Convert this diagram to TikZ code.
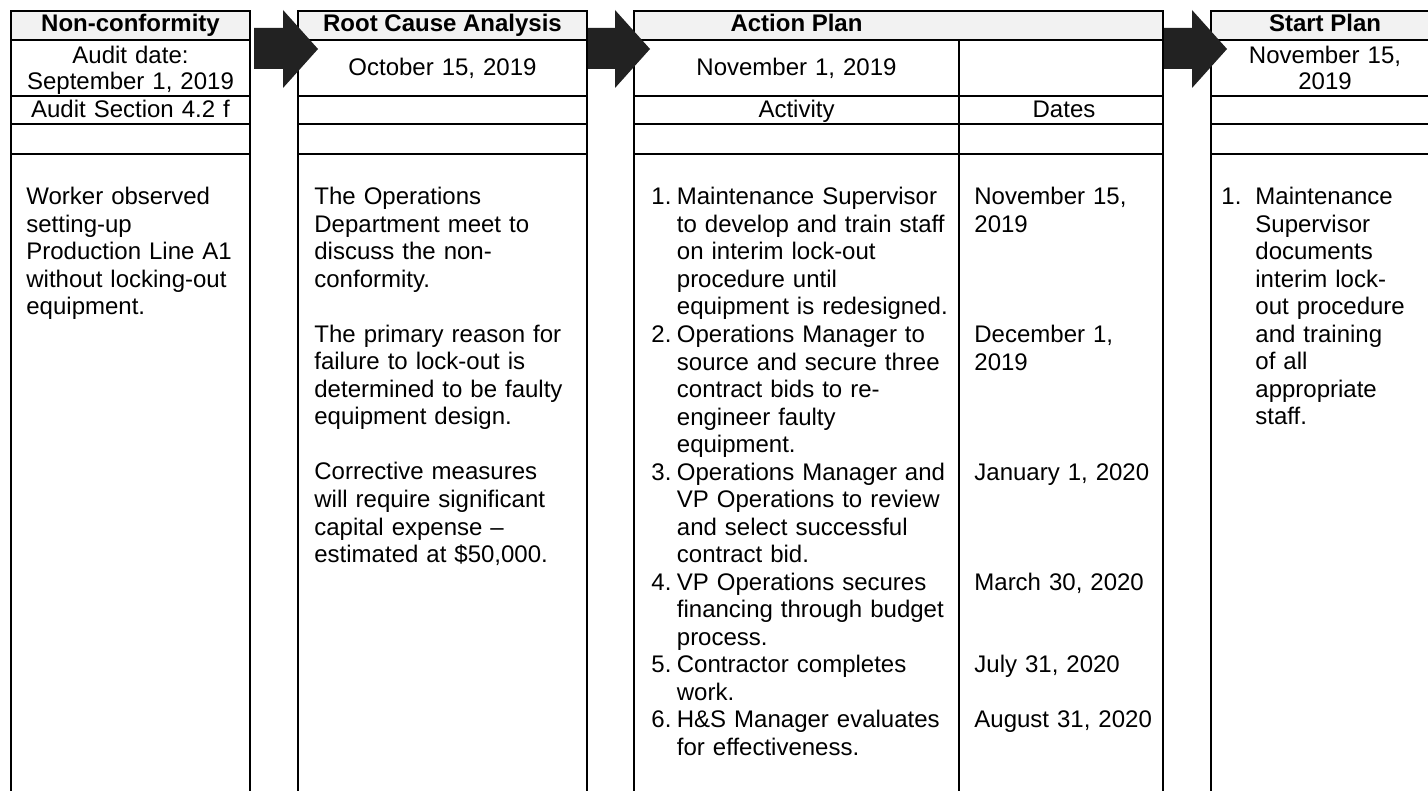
\documentclass[tikz,border=0pt]{standalone}
\usepackage{fontspec}
\setmainfont{Liberation Sans}
\definecolor{arrowdark}{HTML}{222222}
\definecolor{hdrgray}{HTML}{F2F2F2}
\begin{document}
\begin{tikzpicture}[x=0.5pt,y=-0.5pt,
  grid/.style={line width=1pt,draw=black},
  hdrfill/.style={fill=hdrgray,draw=none},
  arrowshape/.style={fill=arrowdark,draw=none},
  txt/.style={inner sep=0pt,font=\fontsize{12}{13.75}\selectfont,anchor=base west},
  para/.style={txt,text width=160pt,align=left},
  ctxt/.style={inner sep=0pt,font=\fontsize{12}{13}\selectfont,anchor=base,text width=130pt,align=center},
  htxt/.style={inner sep=0pt,font=\fontsize{12}{13.75}\selectfont\bfseries,anchor=base}
]
\useasboundingbox (0,0) rectangle (1428,791);
\clip (0,0) rectangle (1428,791);
\fill[white] (0,0) rectangle (1428,791);

% header fills
\path[hdrfill] (11,11) rectangle (250,40);
\path[hdrfill] (298,11) rectangle (587,40);
\path[hdrfill] (634,11) rectangle (1163,40);
\path[hdrfill] (1211,11) rectangle (1440,40);

% grid lines
\foreach \a/\b in {11/250,298/587,634/1163,1211/1440}{
  \draw[grid] (\a,791) -- (\a,11) -- (\b,11) -- (\b,791);
  \foreach \yy in {40,96,124,154}{ \draw[grid] (\a,\yy) -- (\b,\yy); }
}
\draw[grid] (959,40) -- (959,791);

% arrows
\fill[arrowshape] (254,28) -- (283,28) -- (283,10) -- (318,49) -- (283,88) -- (283,69) -- (254,69) -- cycle;
\fill[arrowshape] (588,28) -- (615,28) -- (615,10) -- (650,49) -- (615,88) -- (615,69) -- (588,69) -- cycle;
\fill[arrowshape] (1164,28) -- (1192,28) -- (1192,10) -- (1227,49) -- (1192,88) -- (1192,69) -- (1164,69) -- cycle;

% headers
\node[htxt] (h1) at (130.5,32) {Non-conformity};
\node[htxt] (h2) at (442.5,32) {Root Cause Analysis};
\node[htxt] (h3) at (796.5,32) {Action Plan};
\node[htxt] (h4) at (1325,32) {Start Plan};

% row 2
\node[ctxt] (d1) at (130.5,64) {Audit date:\\September 1, 2019};
\node[ctxt] (d2) at (442.5,76) {October 15, 2019};
\node[ctxt] (d3) at (796.5,76) {November 1, 2019};
\node[ctxt] (d4) at (1325,64) {November 15,\\2019};

% row 3
\node[ctxt] (s1) at (130.5,118) {Audit Section 4.2 f};
\node[ctxt] (s3) at (796.5,118) {Activity};
\node[ctxt] (s3b) at (1064,118) {Dates};

% body column 1
\node[para] (b1) at (26,205) {Worker observed\\setting-up\\Production Line A1\\without locking-out\\equipment.};

% body column 2
\node[para] (b2) at (314,205) {The Operations\\Department meet to\\discuss the non-\\conformity.\\~\\The primary reason for\\failure to lock-out is\\determined to be faulty\\equipment design.\\~\\Corrective measures\\will require significant\\capital expense --\\estimated at \$50,000.};

% body column 3 (action plan)
\node[txt] (n1) at (651,205) {1.};
\node[para] (a1) at (676.5,205) {Maintenance Supervisor\\to develop and train staff\\on interim lock-out\\procedure until\\equipment is redesigned.};
\node[para] (t1) at (974,205) {November 15,\\2019};

\node[txt] (n2) at (651,342.5) {2.};
\node[para] (a2) at (676.5,342.5) {Operations Manager to\\source and secure three\\contract bids to re-\\engineer faulty\\equipment.};
\node[para] (t2) at (974,342.5) {December 1,\\2019};

\node[txt] (n3) at (651,480) {3.};
\node[para] (a3) at (676.5,480) {Operations Manager and\\VP Operations to review\\and select successful\\contract bid.};
\node[para] (t3) at (974,480) {January 1, 2020};

\node[txt] (n4) at (651,590) {4.};
\node[para] (a4) at (676.5,590) {VP Operations secures\\financing through budget\\process.};
\node[para] (t4) at (974,590) {March 30, 2020};

\node[txt] (n5) at (651,672.5) {5.};
\node[para] (a5) at (676.5,672.5) {Contractor completes\\work.};
\node[para] (t5) at (974,672.5) {July 31, 2020};

\node[txt] (n6) at (651,727.5) {6.};
\node[para] (a6) at (676.5,727.5) {H\&S Manager evaluates\\for effectiveness.};
\node[para] (t6) at (974,727.5) {August 31, 2020};

% body column 4
\node[txt] (p1) at (1221,205) {1.};
\node[para] (p1t) at (1255,205) {Maintenance\\Supervisor\\documents\\interim lock-\\out procedure\\and training\\of all\\appropriate\\staff.};
\end{tikzpicture}
\end{document}
